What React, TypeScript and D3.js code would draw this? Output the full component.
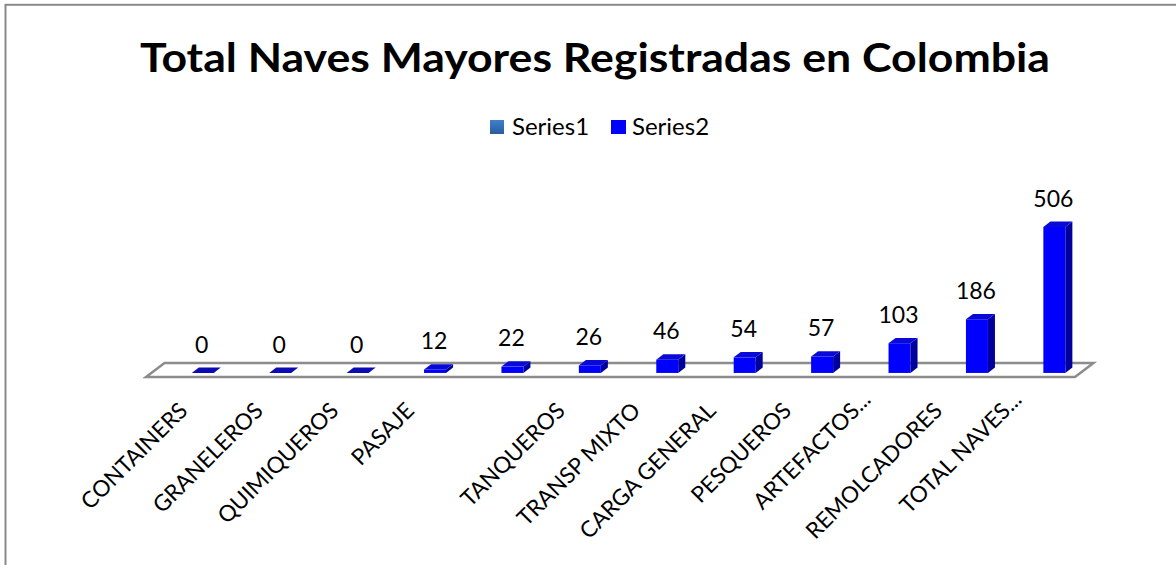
import React from "react";
import * as d3 from "d3";

const title = "Total Naves Mayores Registradas en Colombia";
const seriesNames = ["Series1", "Series2"];
const categories = [
  "CONTAINERS",
  "GRANELEROS",
  "QUIMIQUEROS",
  "PASAJE",
  "",
  "TANQUEROS",
  "TRANSP MIXTO",
  "CARGA GENERAL",
  "PESQUEROS",
  "ARTEFACTOS...",
  "REMOLCADORES",
  "TOTAL NAVES...",
];
const series1: (number | null)[] = [null, null, null, null, null, null, null, null, null, null, null, null];
const series2 = [0, 0, 0, 12, 22, 26, 46, 54, 57, 103, 186, 506];

const W = 1176;
const H = 565;
const FONT = "Lato, 'Noto Sans', sans-serif";

// floor geometry
const floorLeft = 146;
const floorRight = 1075;
const floorFrontY = 377;
const floorDx = 18.5;
const floorDy = -14;
// bar placement inside the floor depth
const barFrontFrac = 0.29;
const barDepthFrac = 0.38;

export default function App() {
  const idx = categories.map((_, i) => i);
  const x = d3.scaleBand<number>().domain(idx).range([floorLeft, floorRight]).padding(0);
  const bw = x.bandwidth();
  const y = d3.scaleLinear().domain([0, 506]).range([0, 146]);
  const labelX = d3.scaleLinear().domain([0, categories.length - 1]).range([189, 1019]);

  const barW = bw * 0.284;
  const bdx = floorDx * barDepthFrac;
  const bdy = floorDy * barDepthFrac;
  const baseY = floorFrontY + floorDy * barFrontFrac;
  const shiftX = floorDx * barFrontFrac;

  const floorPts = [
    [floorLeft, floorFrontY],
    [floorRight, floorFrontY],
    [floorRight + floorDx, floorFrontY + floorDy],
    [floorLeft + floorDx, floorFrontY + floorDy],
  ]
    .map((p) => p.join(","))
    .join(" ");

  return (
    <svg
      width={W}
      height={H}
      style={{ position: "absolute", left: 0, top: 0, background: "#fff" }}
      fontFamily={FONT}
    >
      <defs>
        <linearGradient id="s1grad" x1="0" y1="0" x2="0" y2="1">
          <stop offset="0" stopColor="#3f80cd" />
          <stop offset="1" stopColor="#2a5c9c" />
        </linearGradient>
      </defs>
      <rect x={0} y={0} width={W} height={H} fill="#fff" />
      <rect x={5.5} y={4.8} width={W + 20} height={H + 20} fill="none" stroke="#8a8a8a" strokeWidth={2} />

      <text
        x={140}
        y={72}
        textAnchor="start"
        fontSize={41}
        fontWeight="bold"
        fill="#000"
        textLength={910}
        lengthAdjust="spacingAndGlyphs"
      >
        {title}
      </text>

      {/* legend */}
      <g>
        <rect x={490} y={120} width={14} height={14} fill="url(#s1grad)" />
        <text x={512} y={135} fontSize={24} fill="#000">
          {seriesNames[0]}
        </text>
        <rect x={611} y={120} width={15} height={14} fill="#0000ff" />
        <text x={632} y={135} fontSize={24} fill="#000">
          {seriesNames[1]}
        </text>
      </g>

      {/* floor */}
      <polygon points={floorPts} fill="#fff" stroke="#8c8c8c" strokeWidth={2.5} strokeLinejoin="miter" />

      {/* bars (Series2) */}
      {series2.map((v, i) => {
        const bx = (x(i) as number) + bw * 0.522 + shiftX;
        const h = y(v);
        const top = baseY - h;
        const topPts = [
          [bx, top],
          [bx + bdx, top + bdy],
          [bx + barW + bdx, top + bdy],
          [bx + barW, top],
        ]
          .map((p) => p.join(","))
          .join(" ");
        const sidePts = [
          [bx + barW, top],
          [bx + barW + bdx, top + bdy],
          [bx + barW + bdx, baseY + bdy],
          [bx + barW, baseY],
        ]
          .map((p) => p.join(","))
          .join(" ");
        return (
          <g key={i}>
            {h > 0 && <rect x={bx} y={top} width={barW} height={h} fill="#0000ff" />}
            {h > 0 && <polygon points={sidePts} fill="#00009c" />}
            <polygon points={topPts} fill={h > 0 ? "#0a0ad8" : "#0c0cb4"} />
            <text
              x={bx + barW / 2 - 1}
              y={top + bdy - 15}
              textAnchor="middle"
              fontSize={23}
              fill="#000"
            >
              {v}
            </text>
          </g>
        );
      })}

      {/* category labels */}
      {categories.map((c, i) => {
        const truncated = c.endsWith("...");
        const ax = labelX(i) + (truncated ? 4 : 0);
        const ay = 412 + (truncated ? -11 : 0);
        return (
          <text
            key={i}
            transform={`translate(${ax},${ay}) rotate(-45)`}
            textAnchor="end"
            fontSize={22.5}
            fill="#000"
          >
            {c}
          </text>
        );
      })}
    </svg>
  );
}
